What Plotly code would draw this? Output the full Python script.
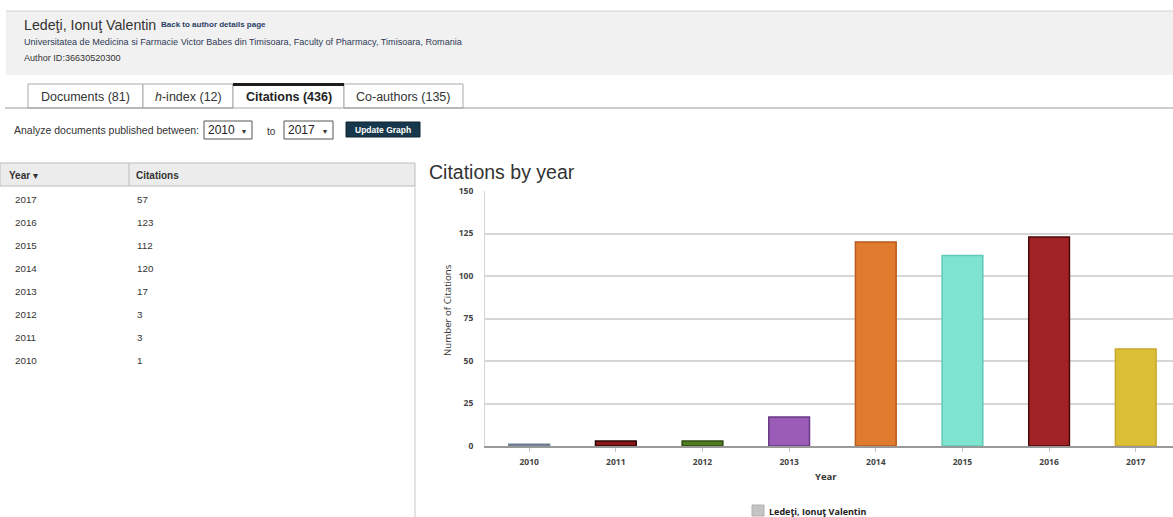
import plotly.graph_objects as go

W, H = 1173, 517

# Citation counts per publication year
years = ["2010", "2011", "2012", "2013", "2014", "2015", "2016", "2017"]
citations = [1, 3, 3, 17, 120, 112, 123, 57]
bar_colors = ["#8393a8", "#8a1618", "#4f7d1e", "#9a5cb6", "#e07a2d", "#7ee4d0", "#a12326", "#dbbf35"]
bar_edges = ["#6d7c90", "#2b0405", "#2f4b10", "#6a3a86", "#b75a1b", "#5fcab6", "#4a0808", "#c9a82b"]

y_ticks = [0, 25, 50, 75, 100, 125, 150]
tab_labels = ["Documents (81)", "<i>h</i>-index (12)", "<b>Citations (436)</b>", "Co-authors (135)"]

author = "Ledeţi, Ionuţ Valentin"
affiliation = "Universitatea de Medicina si Farmacie Victor Babes din Timisoara, Faculty of Pharmacy, Timisoara, Romania"
author_id = "Author ID:36630520300"

PAGE_FONT = "Liberation Sans, Arial, sans-serif"
CHART_FONT = "Open Sans, sans-serif"


def fx(x):
    return x / W


def fy(y):
    return 1 - y / H


shapes = []
annotations = []


def rect(x0, y0, x1, y1, fill="rgba(0,0,0,0)", line="rgba(0,0,0,0)", lw=1):
    shapes.append(dict(type="rect", xref="paper", yref="paper",
                       x0=fx(x0), x1=fx(x1), y0=fy(y1), y1=fy(y0),
                       fillcolor=fill, line=dict(color=line, width=lw), layer="below"))


def hline(x0, x1, y, color, lw=1):
    shapes.append(dict(type="line", xref="paper", yref="paper",
                       x0=fx(x0), x1=fx(x1), y0=fy(y), y1=fy(y),
                       line=dict(color=color, width=lw), layer="above"))


def vline(x, y0, y1, color, lw=1):
    shapes.append(dict(type="line", xref="paper", yref="paper",
                       x0=fx(x), x1=fx(x), y0=fy(y0), y1=fy(y1),
                       line=dict(color=color, width=lw), layer="above"))


def text(x, y, s, size, color="#333333", family=PAGE_FONT, anchor="left", angle=0):
    annotations.append(dict(xref="paper", yref="paper", x=fx(x), y=fy(y), text=s,
                            showarrow=False, xanchor=anchor, yanchor="middle",
                            textangle=angle, borderpad=0,
                            font=dict(size=size, color=color, family=family)))


# Author header block
rect(6, 11, W, 75, fill="#f1f1f1")
hline(6, W, 11, "#d2d2d2", 1)
text(23, 25, author, 14.2, "#333333")
text(160, 25, "<b>Back to author details page</b>", 8, "#2b3f66")
text(23, 42, affiliation, 9.1, "#2f3a55")
text(23, 58, author_id, 9.1, "#333333")

# Tabs
tab_edges = [28, 143, 233, 344, 463]
for i, lab in enumerate(tab_labels):
    x0, x1 = tab_edges[i], tab_edges[i + 1]
    active = i == 2
    rect(x0, 84, x1, 108, fill="#ffffff", line="#a9a9a9", lw=1)
    text((x0 + x1) / 2, 97, lab, 12.5, "#333333" if not active else "#222222", anchor="center")
hline(5, 233, 108, "#9a9a9a", 1)
hline(344, W, 108, "#9a9a9a", 1)
hline(233, 344, 84.5, "#1e1e1e", 3)

# Date-range selector row
text(13, 130, "Analyze documents published between:", 10.5, "#333333")
for x0, x1, yr in [(204, 252, years[0]), (284, 333, years[-1])]:
    rect(x0, 121, x1, 139, fill="#ffffff", line="#555555", lw=1)
    text(x0 + 3, 130, yr, 12, "#222222")
    text(x1 - 11, 131, "▾", 8, "#333333")
text(266, 131, "to", 10, "#333333")
rect(346, 122, 420, 137, fill="#17384c", line="#0d2230", lw=1)
text(383, 129.5, "<b>Update Graph</b>", 8.5, "#ffffff", anchor="center")

# Table of citations per year (newest first)
rect(0, 163, 415, 186, fill="#ececec", line="#bcbcbc", lw=1)
vline(129, 163, 186, "#bcbcbc", 1)
vline(415, 186, H, "#c8c8c8", 1)
text(8, 175, "<b>Year</b> ▾", 10, "#333333")
text(135, 175, "<b>Citations</b>", 10, "#333333")
for k, (yr, c) in enumerate(zip(reversed(years), reversed(citations))):
    yy = 199 + k * 23
    text(14, yy, yr, 9.8, "#333333")
    text(136, yy, str(c), 9.8, "#333333")

# Chart heading and axis titles
text(428, 172, "Citations by year", 19.5, "#333333")
text(447, 310, "Number of Citations", 9.7, "#333333", family=CHART_FONT, anchor="center", angle=-90)
text(826, 476, "<b>Year</b>", 9.5, "#333333", family=CHART_FONT, anchor="center")

# Legend entry
rect(752, 505, 764, 516, fill="#c4c4c4", line="#b0b0b0", lw=1)
text(768, 511, "<b>" + author + "</b>", 9, "#222222", family=CHART_FONT)

fig = go.Figure(go.Bar(
    x=years, y=citations, width=0.47,
    marker=dict(color=bar_colors, line=dict(color=bar_edges, width=1.5)),
    showlegend=False,
))

fig.update_layout(
    width=W, height=H,
    margin=dict(l=0, r=0, t=0, b=0, autoexpand=False),
    paper_bgcolor="#ffffff", plot_bgcolor="#ffffff",
    shapes=shapes, annotations=annotations,
    showlegend=False,
    xaxis=dict(
        domain=[fx(485), 1.0], type="category", range=[-0.51, 7.43],
        automargin=False,
        showgrid=False, showline=True, linecolor="#999999", linewidth=2,
        ticks="outside", ticklen=4, tickcolor="#c4c4c4",
        tickfont=dict(size=8.5, color="#444444", family=CHART_FONT, weight="bold"),
        ticklabelstandoff=3, fixedrange=True,
    ),
    yaxis=dict(
        domain=[fy(446), fy(191)], range=[0, 150], tickvals=y_ticks,
        automargin=False,
        showgrid=True, gridcolor="#d6d6d6", gridwidth=2,
        showline=True, linecolor="#d6d6d6", linewidth=1, zeroline=False,
        tickfont=dict(size=8.5, color="#444444", family=CHART_FONT, weight="bold"),
        ticklabelstandoff=9, fixedrange=True,
    ),
)

fig.write_html("out.html")
